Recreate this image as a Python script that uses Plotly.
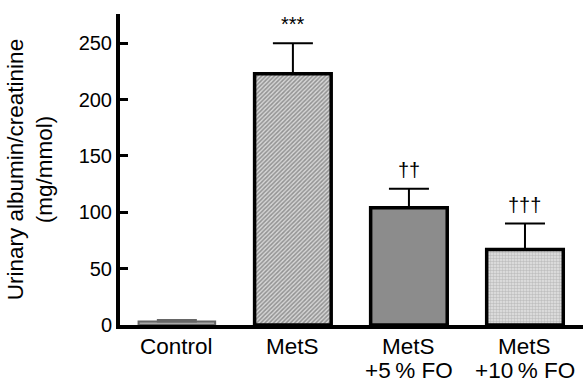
import plotly.graph_objects as go

categories = ["Control", "MetS", "MetS<br>+5\u2009% FO", "MetS<br>+10\u2009% FO"]
means = [3, 223, 104, 67]
errors = [1.5, 27, 17, 23]
sig_labels = ["", "***", "††", "†††"]

FONT = "Liberation Sans, Arial, sans-serif"

fig = go.Figure()

styles = [
    dict(color="#a8a8a8", line=dict(color="#666666", width=2)),
    dict(color="#b0b0b0", line=dict(color="black", width=3.5),
         pattern=dict(shape="/", fgcolor="#4d4d4d", bgcolor="#d6d6d6", size=3, solidity=0.5)),
    dict(color="#8c8c8c", line=dict(color="black", width=3.5)),
    dict(color="#dddddd", line=dict(color="black", width=3.5),
         pattern=dict(shape=".", fgcolor="#9a9a9a", bgcolor="#e4e4e4", size=3, solidity=0.55)),
]
err_colors = ["#666666", "black", "black", "black"]

for i, cat in enumerate(categories):
    fig.add_trace(go.Bar(
        x=[cat], y=[means[i]],
        marker=styles[i],
        width=0.66,
        error_y=dict(type="data", array=[errors[i]], arrayminus=[0], symmetric=False,
                     color=err_colors[i], thickness=2, width=20),
        showlegend=False,
    ))
    if sig_labels[i]:
        fig.add_annotation(x=cat, y=means[i] + errors[i], text=sig_labels[i],
                           showarrow=False, yanchor="bottom", yshift=6,
                           font=dict(family=FONT, size=20, color="black"))
    # category label below the axis, one annotation per text line
    for j, line in enumerate(cat.split("<br>")):
        fig.add_annotation(x=cat, y=0, text=line, showarrow=False,
                           yanchor="middle", yshift=-21 - 24.5 * j,
                           font=dict(family=FONT, size=22.5, color="black"))

fig.add_annotation(xref="paper", yref="paper", x=-0.195, y=0.5,
                   text="Urinary albumin/creatinine<br>(mg/mmol)", textangle=-90,
                   showarrow=False, xanchor="center", yanchor="middle",
                   font=dict(family=FONT, size=22.5, color="black"))

fig.update_layout(
    width=583, height=382,
    margin=dict(l=120, r=0, t=14, b=57),
    plot_bgcolor="white", paper_bgcolor="white",
    barmode="overlay",
    font=dict(family=FONT, size=20, color="black"),
    xaxis=dict(range=[-0.49, 3.5], showline=True, linecolor="black", linewidth=4,
               ticks="", showgrid=False, zeroline=False, showticklabels=False),
    yaxis=dict(range=[0, 276], tickvals=[0, 50, 100, 150, 200, 250],
               showline=True, linecolor="black", linewidth=4,
               ticks="inside", ticklen=8, tickwidth=3, tickcolor="black",
               showgrid=False, zeroline=False, tickfont=dict(size=20)),
)

fig.write_html("out.html", config={"displayModeBar": False},
               post_script="document.body.style.margin='0';document.body.style.padding='0';")
